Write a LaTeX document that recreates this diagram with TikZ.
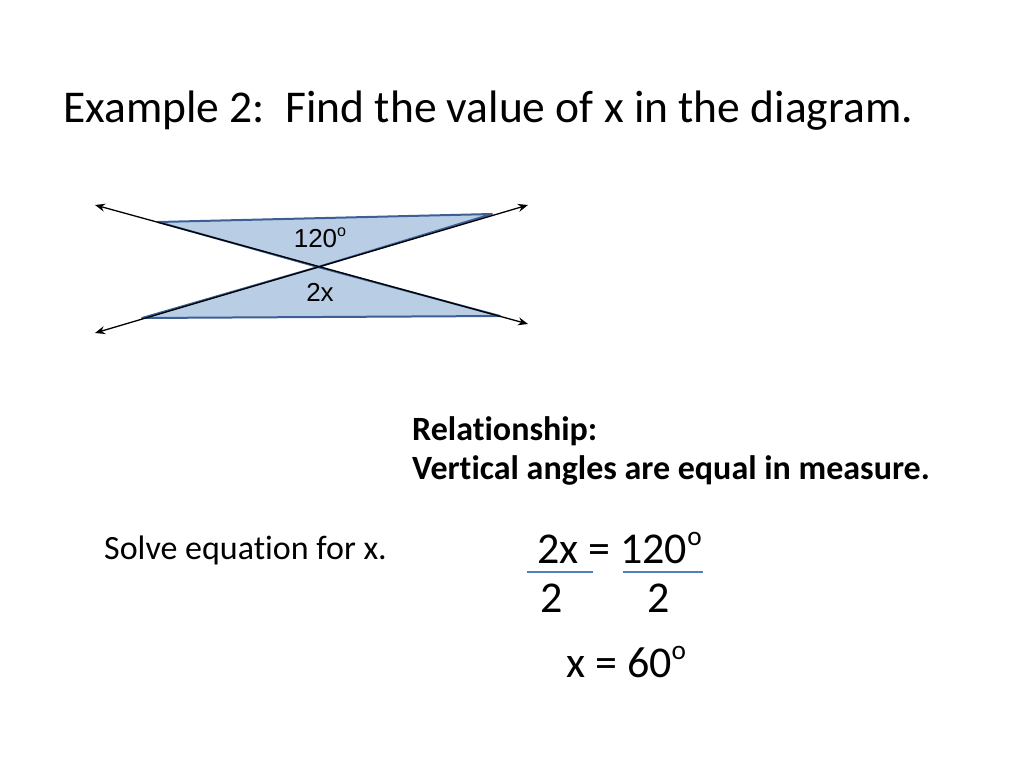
\documentclass[tikz,border=0pt]{standalone}
\usepackage{fontspec}
\setmainfont{Carlito}[Ligatures=NoCommon]
\newfontfamily\arialfont{Liberation Sans}
\usetikzlibrary{positioning,arrows.meta}
\definecolor{triblue}{RGB}{185,205,229}
\definecolor{edgeblue}{RGB}{60,95,150}
\definecolor{barblue}{RGB}{79,129,189}
% small raised letter o used as the degree mark
\newcommand{\supo}{\raisebox{0.4em}{\scalebox{0.62}{o}}}

\begin{document}
\begin{tikzpicture}[x=1pt,y=-1pt,every node/.style={inner sep=0pt,anchor=base west},
  line/.style={black,line width=1.3pt,{Stealth[length=10pt,width=8pt]}-{Stealth[length=10pt,width=8pt]}},
  tri/.style={fill=triblue,draw=edgeblue,line width=2pt,line join=round},
  bar/.style={barblue,line width=2.5pt}]
\useasboundingbox (0,0) rectangle (1024,768);
% vertices of the two triangles
\coordinate (c) at (318,267);
\coordinate (tl) at (158,222);
\coordinate (tr) at (492,214);
\coordinate (bl) at (142,318);
\coordinate (br) at (500,316);
% ends of the two lines
\coordinate (pa) at (95,205);
\coordinate (pb) at (528,324);
\coordinate (pc) at (95,333);
\coordinate (pd) at (528,205);
\draw[tri] (tl) -- (tr) -- (c) -- cycle;
\draw[tri] (bl) -- (br) -- (c) -- cycle;
\draw[line] (pa) -- (pb);
\draw[line] (pc) -- (pd);
\node[anchor=base] (lbltop) at (320,247) {\arialfont\fontsize{26}{30}\selectfont 120\supo};
\node[anchor=base] (lblbot) at (320,301) {\arialfont\fontsize{26}{30}\selectfont 2x};
% text
\node (title) at (63,122) {\fontsize{45.5}{54}\selectfont Example 2:\ \ Find the value of x in the diagram.};
\node (relate) at (412,440) {\fontsize{34}{40}\selectfont\bfseries Relationship:};
\node (rule) at (412,479) {\fontsize{34}{40}\selectfont\bfseries Vertical angles are equal in measure.};
\node (solve) at (104,559) {\fontsize{34}{40}\selectfont Solve equation for x.};
% the equation
\node (eqtop) at (537,563) {\fontsize{44}{52}\selectfont 2x = 120\supo};
\node (denl) at (540,612) {\fontsize{44}{52}\selectfont 2};
\node (denr) at (647,612) {\fontsize{44}{52}\selectfont 2};
\node (result) at (566,677) {\fontsize{44}{52}\selectfont x = 60\supo};
\coordinate (bara) at (527,572);
\coordinate (barb) at (593,572);
\coordinate (barc) at (623,572);
\coordinate (bard) at (703,572);
\draw[bar] (bara) -- (barb);
\draw[bar] (barc) -- (bard);
\end{tikzpicture}
\end{document}
